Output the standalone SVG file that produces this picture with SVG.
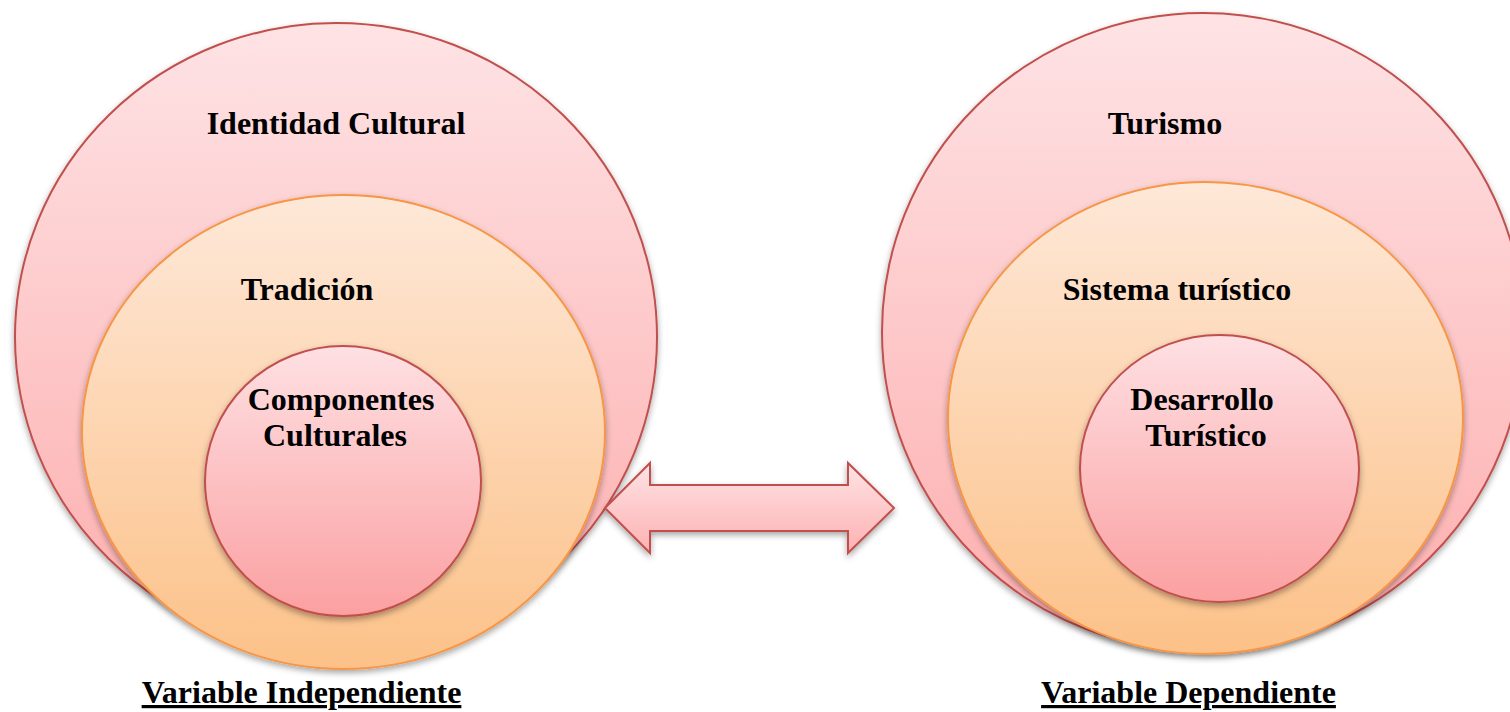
<svg xmlns="http://www.w3.org/2000/svg" width="1510" height="712" viewBox="0 0 1510 712">
<defs>
<linearGradient id="gPink" x1="0" y1="0" x2="0" y2="1">
<stop offset="0" stop-color="#fee3e5"/>
<stop offset="1" stop-color="#fdadad"/>
</linearGradient>
<linearGradient id="gOrange" x1="0" y1="0" x2="0" y2="1">
<stop offset="0" stop-color="#fee8d8"/>
<stop offset="1" stop-color="#fcc188"/>
</linearGradient>
<linearGradient id="gInner" x1="0" y1="0" x2="0" y2="1">
<stop offset="0" stop-color="#fee0e3"/>
<stop offset="1" stop-color="#fba0a1"/>
</linearGradient>
<linearGradient id="gArrow" x1="0" y1="0" x2="0" y2="1">
<stop offset="0" stop-color="#fee3e5"/>
<stop offset="1" stop-color="#fdb1b2"/>
</linearGradient>
<filter id="sh" x="-10%" y="-10%" width="120%" height="125%">
<feDropShadow dx="0" dy="3" stdDeviation="3" flood-color="#000" flood-opacity="0.35"/>
</filter>
</defs>
<style>
.big{fill:url(#gPink);stroke:#c0504d;stroke-width:2;filter:url(#sh)}
.mid{fill:url(#gOrange);stroke:#f79646;stroke-width:2;filter:url(#sh)}
.inn{fill:url(#gInner);stroke:#c0504d;stroke-width:2;filter:url(#sh)}
.arr{fill:url(#gArrow);stroke:#c0504d;stroke-width:2;filter:url(#sh)}
text{font-family:"Liberation Serif","Times New Roman",serif;font-weight:bold;font-size:32px;fill:#000;text-anchor:middle}
.ul{text-decoration:underline}
</style>
<rect width="1510" height="712" fill="#fff"/>
<g id="identidad-cultural">
<ellipse class="big" cx="336" cy="337" rx="321" ry="314"/>
<text x="336" y="134">Identidad Cultural</text>
</g>
<g id="tradicion">
<ellipse class="mid" cx="343.5" cy="432" rx="261.5" ry="237"/>
<text x="307" y="300">Tradición</text>
</g>
<g id="componentes-culturales">
<ellipse class="inn" cx="343" cy="481" rx="138" ry="135"/>
<text x="341" y="410">Componentes</text>
<text x="335" y="446">Culturales</text>
</g>
<g id="turismo">
<ellipse class="big" cx="1203" cy="332" rx="321" ry="319"/>
<text x="1165" y="134">Turismo</text>
</g>
<g id="sistema-turistico">
<ellipse class="mid" cx="1205.5" cy="418" rx="257.5" ry="236"/>
<text x="1177" y="300">Sistema turístico</text>
</g>
<g id="desarrollo-turistico">
<ellipse class="inn" cx="1219.5" cy="468.5" rx="139.5" ry="133.5"/>
<text x="1202" y="410">Desarrollo</text>
<text x="1206" y="446">Turístico</text>
</g>
<g id="connectors">
<path class="arr" d="M605,508 L650,463 L650,485 L848,485 L848,463 L894,508 L848,553 L848,531 L650,531 L650,553 Z"/>
</g>
<g id="labels">
<text class="ul" x="301.5" y="703">Variable Independiente</text>
<text class="ul" x="1188.5" y="703">Variable Dependiente</text>
</g>
</svg>
